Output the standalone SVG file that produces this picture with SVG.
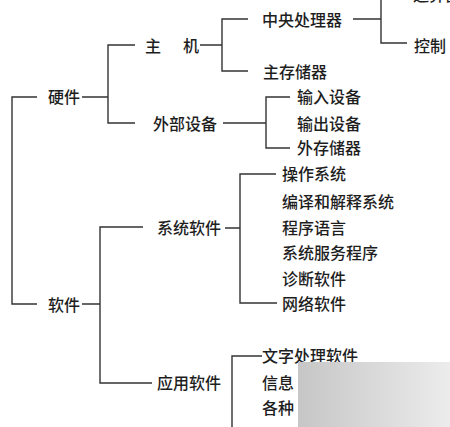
<svg xmlns="http://www.w3.org/2000/svg" width="450" height="427" viewBox="0 0 450 427">
<defs>
<style>
text{font-family:"Noto Sans CJK SC","Noto Sans",sans-serif;font-size:16px;font-weight:500;fill:#1e1e1e;}
.c{fill:none;stroke:#333;stroke-width:1.4;}
</style>
<linearGradient id="blur" x1="0" y1="0" x2="1" y2="0">
<stop offset="0" stop-color="#c6c6c6"/>
<stop offset="0.5" stop-color="#d9d9d9"/>
<stop offset="1" stop-color="#ececec"/>
</linearGradient>
</defs>
<rect width="450" height="427" fill="#ffffff"/>
<g id="connectors" class="c">
<path d="M37 97H12V304H37"/>
<path d="M82 97H108M135 45H108V123H135"/>
<path d="M200 45H222M248 19H222V71H248"/>
<path d="M353 19H381M381 -2V43H407"/>
<path d="M223 123H266M290 97H266V148H290"/>
<path d="M82 304H100M143 227H100V383H152"/>
<path d="M225 228H240M276 174H240V303H277"/>
<path d="M262 356H232V430"/>
</g>
<g id="n-hw"><text x="48" y="103">硬件</text></g>
<g id="n-host"><text x="145" y="52">主<tspan x="183">机</tspan></text></g>
<g id="n-periph"><text x="153" y="130">外部设备</text></g>
<g id="n-cpu"><text x="262" y="26">中央处理器</text></g>
<g id="n-alu"><text x="413" y="1">运算器</text></g>
<g id="n-ctrl"><text x="414" y="52">控制</text></g>
<g id="n-mem"><text x="263" y="78">主存储器</text></g>
<g id="n-in"><text x="297" y="103">输入设备</text></g>
<g id="n-out"><text x="297" y="130">输出设备</text></g>
<g id="n-ext"><text x="297" y="154">外存储器</text></g>
<g id="n-sw"><text x="48" y="311">软件</text></g>
<g id="n-sys"><text x="157" y="234">系统软件</text></g>
<g id="n-app"><text x="157" y="389">应用软件</text></g>
<g id="n-os"><text x="282" y="180">操作系统</text></g>
<g id="n-comp"><text x="282" y="208">编译和解释系统</text></g>
<g id="n-lang"><text x="282" y="234">程序语言</text></g>
<g id="n-svc"><text x="282" y="259">系统服务程序</text></g>
<g id="n-diag"><text x="282" y="285">诊断软件</text></g>
<g id="n-net"><text x="282" y="310">网络软件</text></g>
<g id="n-word"><text x="262" y="362">文字处理软件</text></g>
<g id="n-info"><text x="262" y="389">信息</text></g>
<g id="n-var"><text x="262" y="414">各种</text></g>
<rect x="298" y="362" width="152" height="65" fill="url(#blur)"/>
</svg>
